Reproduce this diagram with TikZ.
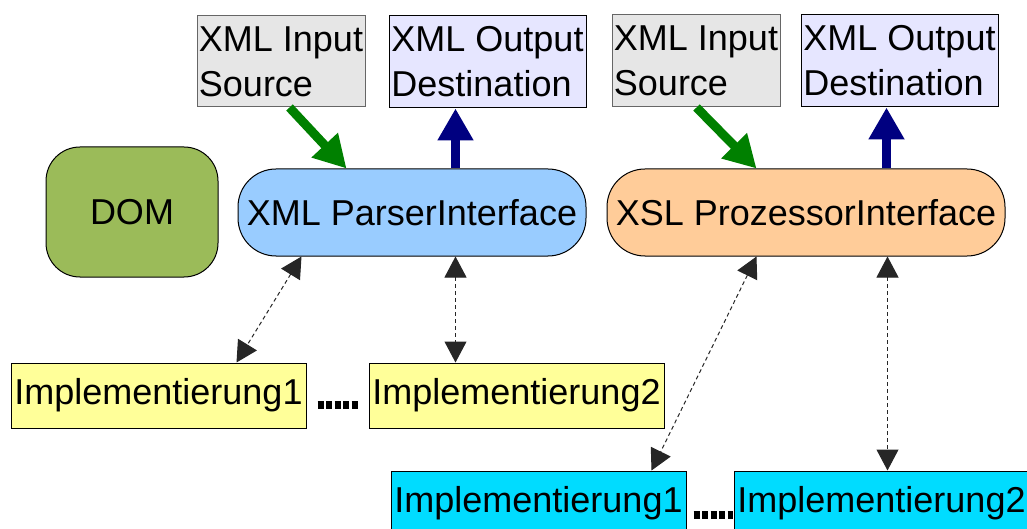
\documentclass[tikz,border=0pt]{standalone}
\usepackage{fontspec}
\setmainfont{Liberation Sans}
\usetikzlibrary{arrows.meta,calc}

\definecolor{inbg}{HTML}{E6E6E6}
\definecolor{outbg}{HTML}{E6E6FF}
\definecolor{parserbg}{HTML}{99CCFF}
\definecolor{dombg}{HTML}{9BBB59}
\definecolor{xslbg}{HTML}{FFCC99}
\definecolor{implA}{HTML}{FFFF99}
\definecolor{implB}{HTML}{00DCFF}
\definecolor{ingreen}{RGB}{0,128,0}
\definecolor{outnavy}{RGB}{0,0,128}

\begin{document}
\begin{tikzpicture}[x=1pt,y=-1pt,
  every node/.style={font=\fontsize{36}{45}\selectfont, inner sep=0pt},
  box/.style={draw=black, line width=1pt, rectangle},
  iobox/.style={box, align=left},
  pill/.style={box, rounded corners=38pt, minimum height=87pt},
  implbox/.style={box, minimum width=295pt, minimum height=65pt},
  inarrow/.style={draw=ingreen, line width=9pt, -{Triangle[length=32pt,width=34pt]}},
  outarrow/.style={draw=outnavy, line width=9pt, -{Triangle[length=32pt,width=34pt]}},
  linkarrow/.style={draw=black!85, line width=1pt, dash pattern=on 4pt off 3pt,
    {Triangle[length=21pt,width=22pt]}-{Triangle[length=21pt,width=22pt]}},
  dotline/.style={draw=black, line width=8pt, dash pattern=on 6pt off 2.5pt}]

\clip (0,0) rectangle (1027,529);
\fill[white] (0,0) rectangle (1027,529);

% parser side
\node[iobox, fill=inbg, draw=black!60, minimum width=168pt, minimum height=91pt] (in1) at (281,61.5) {XML Input\\Source};
\node[iobox, fill=outbg, minimum width=197pt, minimum height=92pt] (out1) at (487.5,62) {XML Output\\Destination};
\node[pill, fill=parserbg, minimum width=348pt] (parser) at (412,212.5) {XML ParserInterface};
\node[box, fill=dombg, rounded corners=34pt, minimum width=172pt, minimum height=130pt] (dom) at (132,212) {DOM};
\node[implbox, fill=implA] (y1) at (158.5,395.5) {Implementierung1};
\node[implbox, fill=implA] (y2) at (516.5,395.5) {Implementierung2};

% processor side
\node[iobox, fill=inbg, draw=black!60, minimum width=168pt, minimum height=92pt] (in2) at (696,61) {XML Input\\Source};
\node[iobox, fill=outbg, minimum width=197pt, minimum height=92pt] (out2) at (899.5,61) {XML Output\\Destination};
\node[pill, fill=xslbg, minimum width=398pt] (xsl) at (806,212.5) {XSL ProzessorInterface};
\node[implbox, fill=implB] (c1) at (538.5,503.5) {Implementierung1};
\node[implbox, fill=implB] (c2) at (881.5,503.5) {Implementierung2};

% data flow
\draw[inarrow] ($(in1.south west)+(93,0)$) -- ($(parser.north west)+(109,0)$);
\draw[outarrow] ($(parser.north west)+(218,0)$) -- ($(out1.south west)+(67,0)$);
\draw[inarrow] ($(in2.south west)+(85,0)$) -- ($(xsl.north west)+(150,0)$);
\draw[outarrow] ($(xsl.north west)+(280,0)$) -- ($(out2.south west)+(86,0)$);

% implementations
\draw[linkarrow] ($(parser.south west)+(64,0)$) -- ($(y1.north west)+(226,0)$);
\draw[linkarrow] ($(parser.south west)+(218,0)$) -- ($(y2.north west)+(87,0)$);
\draw[linkarrow] ($(xsl.south west)+(150,0)$) -- ($(c1.north west)+(261,0)$);
\draw[linkarrow] ($(xsl.south west)+(281,0)$) -- ($(c2.north west)+(154,0)$);

\draw[dotline] ($(y1.east)+(11,9.5)$) -- ($(y2.west)+(-11,9.5)$);
\draw[dotline] ($(c1.east)+(7,11.5)$) -- ($(c2.west)+(-1,11.5)$);
\end{tikzpicture}
\end{document}
